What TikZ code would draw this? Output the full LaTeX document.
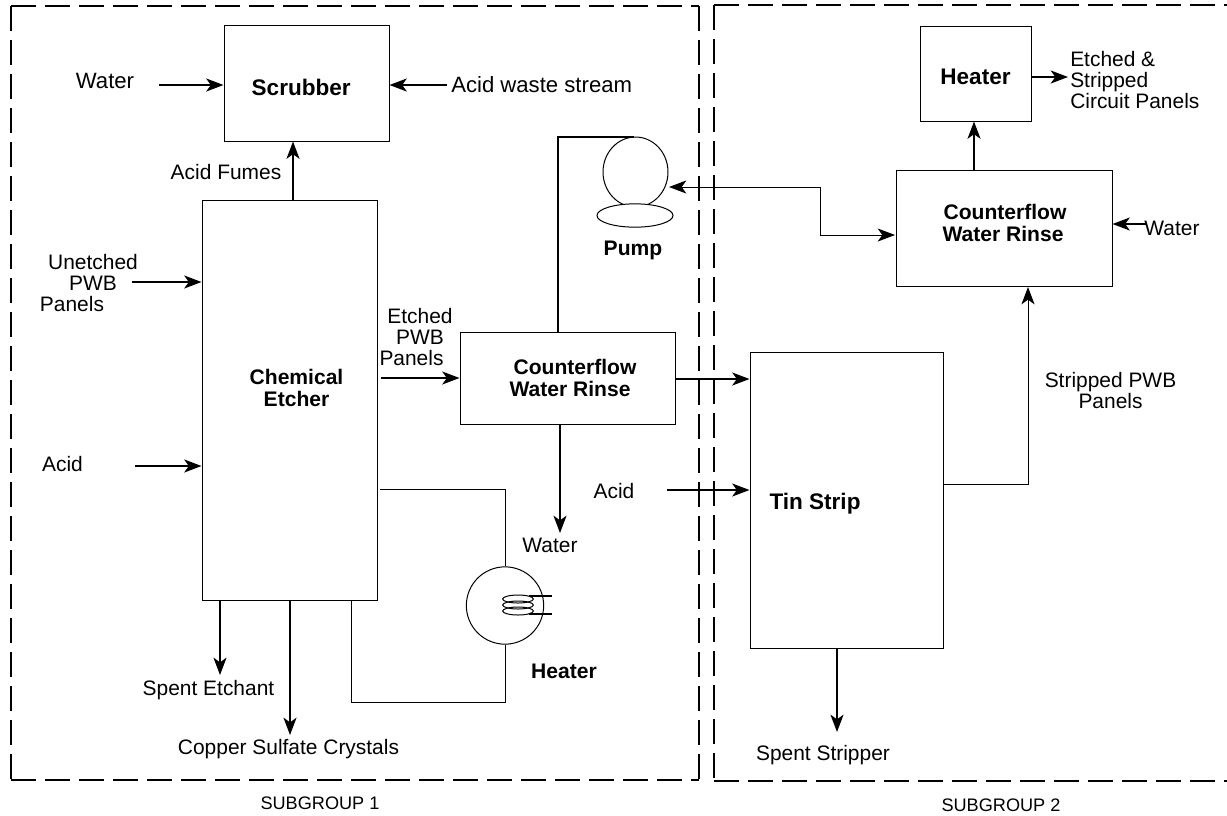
\documentclass[tikz,border=0pt]{standalone}
\usepackage{fontspec}
\setmainfont{Liberation Sans}
\usetikzlibrary{arrows.meta,shapes.geometric}

\begin{document}
\begin{tikzpicture}[x=0.75pt,y=-0.75pt,font=\fontsize{15.7}{15.75}\selectfont,>={Stealth[length=13pt,width=9.8pt,inset=3.5pt]}]
          \tikzstyle{box}=[draw,line width=0.75pt,inner sep=0pt]
          \tikzstyle{lbl}=[inner sep=0pt,align=center]
          \tikzstyle{biglbl}=[inner sep=0pt,align=center,font=\fontsize{16.6}{17}\selectfont]
          \tikzstyle{boldlbl}=[inner sep=0pt,align=center,font=\fontsize{15.8}{16.5}\selectfont\bfseries]
          \tikzstyle{bigbold}=[inner sep=0pt,align=center,font=\fontsize{16.9}{17}\selectfont\bfseries]
          \tikzstyle{grouplbl}=[inner sep=0pt,font=\fontsize{13.6}{15}\selectfont]
          \tikzstyle{flow}=[->,line width=1.1pt]
          \tikzstyle{thinflow}=[->,line width=0.75pt]
          \tikzstyle{pipe}=[line width=0.75pt]
          \tikzstyle{lead}=[line width=1.1pt]
          \tikzstyle{coil}=[draw,ellipse,line width=0.75pt,minimum width=23pt,minimum height=6pt,inner sep=0pt]
          \tikzstyle{frame}=[line width=1.1pt,dash pattern=on 18.75pt off 6.75pt]
          \useasboundingbox (0,0) rectangle (1227,815);
          % Subgroup frames
          \draw[frame] (11,6) -- (699,6);
          \draw[frame] (11,6) -- (11,780);
          \draw[frame] (11,780) -- (699,780);
          \draw[frame] (699,6) -- (699,780);
          \draw[frame] (714,5) -- (1227,5);
          \draw[frame] (714,5) -- (714,781);
          \draw[frame] (714,781) -- (1227,781);
          \node[grouplbl] (sub1) at (320,803) {SUBGROUP 1};
          \node[grouplbl] (sub2) at (1001,805) {SUBGROUP 2};
          % Process boxes
          \node[box,minimum width=123.75pt,minimum height=87pt,label={[bigbold,name=scrubbertext,xshift=-4pt,yshift=-3pt]center:Scrubber}] (scrubber) at (306.5,83) {};
          \node[box,minimum width=131.25pt,minimum height=300pt,label={[boldlbl,name=etchertext,xshift=5.25pt,yshift=9pt]center:Chemical\\Etcher}] (etcher) at (289.5,400) {};
          \node[box,minimum width=161.25pt,minimum height=69pt,label={[boldlbl,name=rinseatext,xshift=1.9pt]center:\hspace*{7.5pt}Counterflow\\Water Rinse}] (rinsea) at (567.5,378) {};
          \node[box,minimum width=144.75pt,minimum height=222pt,label={[bigbold,name=tintext,xshift=-23.6pt,yshift=-3pt]center:Tin Strip}] (tin) at (846.5,500) {};
          \node[box,minimum width=162pt,minimum height=87pt,label={[boldlbl,name=rinsebtext,xshift=-0.75pt,yshift=3.75pt]center:\hspace*{3pt}Counterflow\\Water Rinse}] (rinseb) at (1004,228) {};
          \node[box,minimum width=83.25pt,minimum height=71.25pt,label={[bigbold,name=heaterbtext,yshift=-2.6pt]center:Heater}] (heaterb) at (975.5,73.5) {};
          % Pump and heater symbols
          \node[draw,ellipse,line width=0.75pt,minimum width=48.75pt,minimum height=52.5pt,inner sep=0pt] (pump) at (635.5,172) {};
          \node[draw,fill=white,ellipse,line width=0.75pt,minimum width=57pt,minimum height=17.5pt,inner sep=0pt] (pumpbase) at (635,215.5) {};
          \node[boldlbl] (pumptext) at (633,250) {Pump};
          \node[draw,circle,line width=0.75pt,minimum size=58pt,inner sep=0pt] (heatera) at (505,605.5) {};
          \node[coil] (coila) at (518,599) {};
          \node[coil] (coilb) at (518,605) {};
          \node[coil] (coilc) at (518,611) {};
          \node[boldlbl] (heateratext) at (564,671) {Heater};
          \coordinate (leada) at (552,596);
          \coordinate (leadb) at (552,614);
          \draw[lead] (coila.north east |- leada) -- (leada);
          \draw[lead] (coilc.south east |- leadb) -- (leadb);
          % Stream labels
          \node[biglbl] (waterscrub) at (105,81) {Water};
          \node[biglbl,anchor=west] (acidwaste) at (451,85) {Acid waste stream};
          \node[lbl] (fumes) at (226,172) {Acid Fumes};
          \node[lbl] (unetched) at (93,283) {Unetched\\PWB\\\hspace*{-31.5pt}Panels};
          \node[lbl] (acida) at (62.5,464) {Acid};
          \node[lbl] (etched) at (420,337) {Etched\\PWB\\\hspace*{-12.75pt}Panels};
          \node[lbl] (waterrinse) at (550,545) {Water};
          \node[lbl] (acidb) at (614,491) {Acid};
          \node[lbl] (stripped) at (1110.5,391) {Stripped PWB\\Panels};
          \node[lbl,anchor=west,align=left] (panelsout) at (1070,80) {Etched \&\\Stripped\\Circuit Panels};
          \node[lbl] (waterout) at (1172,228) {Water};
          \node[lbl] (spentetch) at (208.5,690) {Spent Etchant};
          \node[lbl] (copper) at (288.5,749) {Copper Sulfate Crystals};
          \node[lbl] (spentstrip) at (823,755) {Spent Stripper};
          % Free ends of the streams
          \coordinate (waterin) at (159,85);
          \coordinate (wastein) at (447,85);
          \coordinate (fumesout) at (293,200);
          \coordinate (unetchedin) at (132,282);
          \coordinate (acidain) at (135,466);
          \coordinate (etchedout) at (381,378);
          \coordinate (rinsedrain) at (560,533);
          \coordinate (rinseout) at (675,379);
          \coordinate (acidbin) at (667,490);
          \coordinate (spenttip) at (837,732);
          \coordinate (etchtip) at (220,675);
          \coordinate (coppertip) at (290,735);
          \coordinate (loopout) at (380,489);
          \coordinate (loopcorner) at (351,702);
          \coordinate (loopback) at (351,600);
          \coordinate (tinout) at (943,484);
          \coordinate (strippedin) at (1028,287);
          \coordinate (pumptap) at (558,332);
          \coordinate (pumptop) at (634,137);
          \coordinate (pumpport) at (669,187);
          \coordinate (pumpbend) at (820,187);
          \coordinate (rinseport) at (895,235);
          \coordinate (heatertap) at (974,170);
          \coordinate (panelstip) at (1068,77);
          \coordinate (watertail) at (1146,224);
          % Streams
          \draw[flow] (waterin) -- (scrubber.west |- waterin);
          \draw[flow] (wastein) -- (scrubber.east |- wastein);
          \draw[flow] (fumesout) -- (fumesout |- scrubber.south);
          \draw[flow] (unetchedin) -- (etcher.west |- unetchedin);
          \draw[flow] (acidain) -- (etcher.west |- acidain);
          \draw[flow] (etchedout) -- (rinsea.west |- etchedout);
          \draw[flow] (rinsedrain |- rinsea.south) -- (rinsedrain);
          \draw[flow] (rinseout) -- (tin.west |- rinseout);
          \draw[flow] (acidbin) -- (tin.west |- acidbin);
          \draw[flow] (spenttip |- tin.south) -- (spenttip);
          \draw[flow] (etchtip |- etcher.south) -- (etchtip);
          \draw[flow] (coppertip |- etcher.south) -- (coppertip);
          \draw[flow] (heatertap) -- (heatertap |- heaterb.south);
          \draw[flow] (heaterb.east |- panelstip) -- (panelstip);
          \draw[flow] (watertail) -- (rinseb.east |- watertail);
          \draw[thinflow] (tinout) -| (strippedin);
          % Heater loop and pump lines
          \draw[pipe] (loopout) -| (heatera.north);
          \draw[pipe] (heatera.south) |- (loopcorner) -- (loopback);
          \draw[lead] (pumptap) |- (pumptop);
          \draw[thinflow,<->] (pumpport) -- (pumpbend) |- (rinseport);
        \end{tikzpicture}
\end{document}
